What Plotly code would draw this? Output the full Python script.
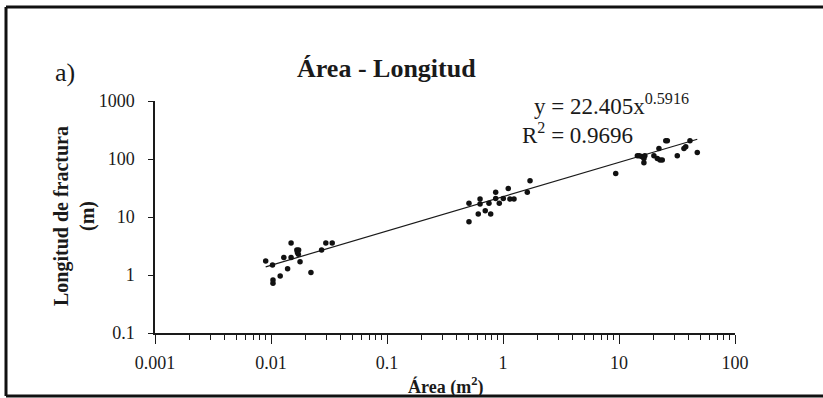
import plotly.graph_objects as go

# ---- data ----
area = [0.0090, 0.0103, 0.0104, 0.0104, 0.0120, 0.0129, 0.0139, 0.0149, 0.0149,
        0.0167, 0.0173, 0.0169, 0.0172, 0.0178, 0.0221, 0.0273, 0.0297, 0.0337,
        0.509, 0.509, 0.612, 0.634, 0.634, 0.703, 0.757, 0.783, 0.865, 0.865,
        0.929, 1.006, 1.11, 1.148, 1.244, 1.62, 1.71,
        9.37, 14.4, 14.96, 15.7, 16.4, 16.7, 16.4, 20.0, 21.4, 22.6, 23.6, 22.1,
        25.3, 26.1, 31.8, 36.3, 37.6, 40.9, 47.3]
longitud = [1.74, 1.49, 0.82, 0.72, 0.96, 2.01, 1.28, 3.56, 2.01,
            2.70, 2.70, 2.45, 2.27, 1.70, 1.10, 2.70, 3.56, 3.56,
            17.2, 8.3, 11.3, 20.4, 16.7, 12.8, 17.2, 11.3, 26.6, 20.9,
            17.2, 20.9, 31.1, 20.4, 20.4, 26.6, 42.3,
            56.5, 114, 114, 110, 102, 114, 86.3, 114, 102, 96.1, 96.1, 152,
            207, 207, 114, 152, 163, 207, 130]

coef_a = 22.405
coef_b = 0.5916
fit_x = [min(area), max(area)]
fit_y = [coef_a * v ** coef_b for v in fit_x]

x_tickvals = [0.001, 0.01, 0.1, 1, 10, 100]
x_ticktext = ["0.001", "0.01", "0.1", "1", "10", "100"]
x_minor_ticks = [m * d for d in [0.001, 0.01, 0.1, 1, 10] for m in range(2, 10)]
y_tickvals = [0.1, 1, 10, 100, 1000]
y_ticktext = ["0.1", "1", "10", "100", "1000"]

SERIF = "Liberation Serif, Times New Roman, serif"
INK = "#1a1a1a"

# plot-area geometry in pixels
L, R, T, B = 155, 735, 101, 333
W, H = 823, 398


def px(xp):
    return (xp - L) / (R - L)


def py(yp):
    return (B - yp) / (B - T)


fig = go.Figure()
fig.add_trace(go.Scatter(x=fit_x, y=fit_y, mode="lines",
                         line=dict(color=INK, width=1.2), hoverinfo="skip",
                         showlegend=False))
fig.add_trace(go.Scatter(x=area, y=longitud, mode="markers",
                         marker=dict(color="#111111", size=5.5, symbol="circle"),
                         showlegend=False))

fig.update_layout(
    width=W, height=H,
    margin=dict(l=L, r=W - R, t=T, b=H - B),
    paper_bgcolor="white", plot_bgcolor="white",
    font=dict(family=SERIF, color=INK, size=18),
    showlegend=False,
)
fig.update_xaxes(type="log", range=[-3, 2], tickmode="array",
                 tickvals=x_tickvals, ticktext=x_ticktext,
                 showgrid=False, zeroline=False, showline=True, linecolor=INK,
                 linewidth=1.5, ticks="outside", ticklen=9, tickwidth=1.3,
                 tickcolor=INK, ticklabelstandoff=4,
                 tickfont=dict(family=SERIF, size=18, color=INK),
                 minor=dict(tickmode="array", tickvals=x_minor_ticks,
                            ticks="outside", ticklen=5, tickwidth=1.2,
                            tickcolor=INK, showgrid=False))
fig.update_yaxes(type="log", range=[-1, 3], tickmode="array",
                 tickvals=y_tickvals, ticktext=y_ticktext,
                 showgrid=False, zeroline=False, showline=True, linecolor=INK,
                 linewidth=1.5, ticks="outside", ticklen=5, tickwidth=1.3,
                 tickcolor=INK, ticklabelstandoff=10,
                 tickfont=dict(family=SERIF, size=18, color=INK))

ann = [
    dict(text="<b>Área - Longitud</b>", x=px(386), y=py(69), font=dict(size=26)),
    dict(text="a)", x=px(53), y=py(72), xanchor="left", font=dict(size=26)),
    dict(text="<b>Área (m<sup>2</sup>)</b>", x=px(445), y=py(386), font=dict(size=18)),
    dict(text="<b>Longitud de fractura<br>(m)</b>", x=px(74), y=py(216),
         textangle=-90, font=dict(size=20)),
    dict(text="y = 22.405x<sup>0.5916</sup>", x=px(532), y=py(104), xanchor="left",
         font=dict(size=23)),
    dict(text="R<sup>2</sup> = 0.9696", x=px(520), y=py(133), xanchor="left",
         font=dict(size=23)),
]
for a in ann:
    a.setdefault("xanchor", "center")
    a.update(xref="paper", yref="paper", yanchor="middle", showarrow=False)
    a["font"] = dict(family=SERIF, color=INK, size=a["font"]["size"])
    fig.add_annotation(**a)

# scanned frame (top, left, bottom; right side cropped)
frame = dict(color="#111111", width=3)
fig.add_shape(type="line", xref="paper", yref="paper", x0=px(6), x1=px(830), y0=py(7), y1=py(7), line=frame)
fig.add_shape(type="line", xref="paper", yref="paper", x0=px(6), x1=px(6), y0=py(7), y1=py(396), line=frame)
fig.add_shape(type="line", xref="paper", yref="paper", x0=px(6), x1=px(830), y0=py(396), y1=py(396), line=frame)

fig.write_html("out.html")
